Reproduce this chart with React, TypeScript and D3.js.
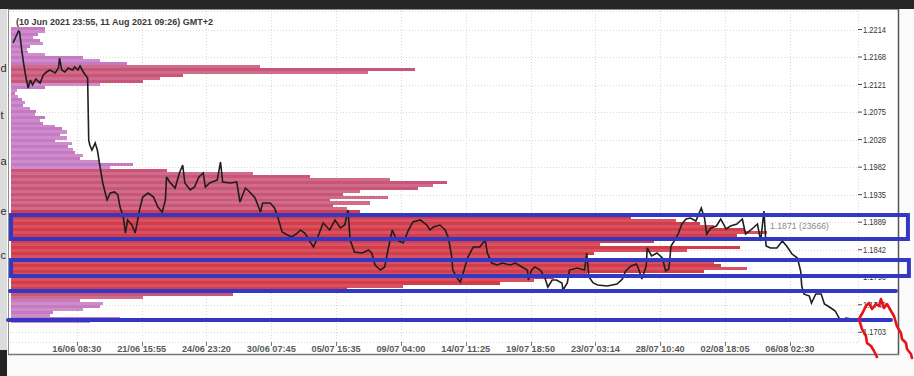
import React from 'react';
import * as d3 from 'd3';

const W = 914;
const H = 376;

// ---- axis data ----
const xTickBars = [60, 120, 180, 240, 300, 360, 420, 480, 540, 600, 660, 720];
const xTickLabels = [
  '16/06 08:30', '21/06 15:55', '24/06 23:20', '30/06 07:45', '05/07 15:35', '09/07 04:00',
  '14/07 11:25', '19/07 18:50', '23/07 03:14', '28/07 10:40', '02/08 18:05', '06/08 02:30',
];
const yTicks = [1.2214, 1.21675, 1.2121, 1.20745, 1.2028, 1.19815, 1.1935, 1.18885, 1.1842, 1.17955, 1.1749, 1.17025];
const yTickLabels = ['1.2214', '1.2168', '1.2121', '1.2075', '1.2028', '1.1982', '1.1935', '1.1889', '1.1842', '1.1796', '1.1749', '1.1703'];

const titleText = '(10 Jun 2021 23:55, 11 Aug 2021 09:26) GMT+2';

// ---- price series (bar index, price) ----
const priceBars = [
  1, 6, 7, 9, 11, 13, 15, 17, 19, 22, 26, 29, 32, 35, 40, 43, 44, 46, 49, 52, 56, 58, 61, 63, 66, 68, 70,
  71, 72, 74, 77, 79, 82, 84, 88, 91, 95, 98, 100, 103, 105, 107, 111, 114, 116, 118, 121, 126, 131, 135,
  139, 142, 143, 146, 151, 155, 158, 160, 165, 169, 173, 177, 179, 183, 190, 193, 195, 202, 208, 211, 216,
  220, 225, 230, 232, 239, 243, 246, 250, 255, 259, 264, 267, 271, 279, 282, 288, 294, 299, 304, 308, 311,
  313, 317, 324, 330, 333, 336, 341, 345, 348, 352, 356, 362, 367, 371, 378, 384, 387, 390, 396, 401, 404,
  407, 408, 412, 415, 419, 422, 427, 433, 438, 440, 444, 449, 454, 461, 466, 472, 477, 478, 481, 484, 489,
  493, 496, 500, 504, 509, 510, 514, 516, 523, 530, 532, 534, 538, 542, 551, 560, 565, 568, 573, 578, 580,
  583, 587, 588, 592, 597, 602, 605, 608, 610, 613, 617, 620, 624, 628, 633, 638, 641, 643, 647, 652, 656,
  661, 665, 671, 676, 679, 685, 690, 693, 696, 698, 702, 708, 713, 717, 722, 727, 730, 731, 733, 738, 740,
  744, 749, 752, 758, 762, 767, 772, 777, 779,
];
const priceValues = [
  1.21912, 1.22114, 1.22098, 1.21793, 1.2154, 1.2132, 1.21152, 1.21287, 1.21202, 1.21304, 1.21236, 1.21371,
  1.21422, 1.21456, 1.21405, 1.21489, 1.21658, 1.21456, 1.21422, 1.21489, 1.21456, 1.21506, 1.21456, 1.21523,
  1.21422, 1.21371, 1.2132,
  1.20273, 1.20189, 1.20104, 1.20222, 1.20104, 1.19766, 1.19547, 1.1926, 1.19378, 1.19395, 1.19344, 1.19141,
  1.18972, 1.18702, 1.18922, 1.18837, 1.18702, 1.18888, 1.19091, 1.1931, 1.19378, 1.1931, 1.19141,
  1.19057, 1.1926, 1.19648, 1.19564, 1.19462, 1.19716, 1.19851, 1.19547, 1.19429, 1.19479, 1.19648, 1.19716,
  1.19479, 1.19547, 1.19597, 1.19902, 1.19564, 1.19547, 1.19564, 1.19226, 1.19462,
  1.19395, 1.19293, 1.19057, 1.19209, 1.19209, 1.19125, 1.18972, 1.18719, 1.18668, 1.18635, 1.18702, 1.18753,
  1.18702, 1.18466, 1.18584, 1.18871, 1.18753, 1.18922, 1.18787, 1.18837, 1.19091,
  1.18584, 1.18381, 1.18364, 1.18415, 1.18364, 1.18162, 1.18077, 1.18128, 1.18415, 1.18753, 1.18584, 1.18533,
  1.18753, 1.18888, 1.18922, 1.18837, 1.18753, 1.18804, 1.18837, 1.18753, 1.18618,
  1.18297, 1.18077, 1.17942, 1.17874, 1.18111, 1.18297, 1.18466, 1.18466, 1.18584, 1.18364, 1.18195, 1.18162,
  1.18195, 1.18162, 1.18195, 1.18128, 1.18077, 1.17908, 1.18077, 1.18128, 1.18077,
  1.17959, 1.1779, 1.17908, 1.17908, 1.17858, 1.17739, 1.17858, 1.18077, 1.18111, 1.18077, 1.18364, 1.17959,
  1.17858, 1.17824, 1.17807, 1.17841, 1.17925, 1.1806, 1.18145, 1.18179, 1.18094,
  1.17925, 1.18145, 1.18449, 1.18314, 1.18364, 1.1828, 1.1806, 1.18094, 1.18483, 1.18567, 1.18702, 1.18854,
  1.18939, 1.18956, 1.18905, 1.19125, 1.18956, 1.18685, 1.18787, 1.1882, 1.18939,
  1.1877, 1.1882, 1.18854, 1.18939, 1.18685, 1.1877, 1.18854, 1.18567, 1.19074, 1.18483, 1.18449, 1.18449,
  1.18567, 1.18483, 1.18347, 1.1828, 1.1806, 1.17807, 1.17672, 1.17638, 1.1752,
  1.17672, 1.17672, 1.17503, 1.17435, 1.17385, 1.17216, 1.17266, 1.1725, 1.17216,
];

// ---- volume profile (rows from top, 0.0005 price bins) ----
const profileTopPrice = 1.2216;
const profileStep = 0.0005;
const profileVolumes = [
  1064, 1064, 845, 689, 908, 1002, 595, 501, 532, 1064,
  2254, 2786, 3631, 7794, 12645, 11174, 5384, 4664, 4132, 2786,
  1064, 188, 125, 219, 344, 438, 376, 595, 783, 751,
  1064, 908, 1002, 1377, 1596, 1753, 1534, 1753, 1377, 1909,
  1784, 1941, 2003, 2254, 2160, 2786, 3819, 3099, 4883, 7575,
  9359, 11863, 13647, 13209, 12739, 10924, 10392, 11800, 9985, 11237,
  10079, 10517, 10924, 17184, 19406, 20815, 21566, 22004, 22943, 23666,
  22724, 20846, 20126, 18436, 22818, 21159, 18248, 18029, 17528, 22004,
  22223, 23037, 21691, 18029, 16996, 16370, 15306, 12270, 10517, 10298,
  6949, 4132, 2160, 2880, 2786, 2254, 1315, 1221, 3412, 2473,
];
const pocPrice = 1.1871;
const pocVolume = 23666;
const valueAreaHigh = 1.1907;
const valueAreaLow = 1.1775;

// ---- annotations (bar, price) ----
const blueBoxes = [
  { b0: -0.9, b1: 829.3, p0: 1.19006, p1: 1.18601 },
  { b0: -0.9, b1: 830.2, p0: 1.18246, p1: 1.17976 },
];
const blueLines = [
  { b0: -1.9, b1: 818.2, p: 1.17722 },
  { b0: -3.7, b1: 813.6, p: 1.17233 },
];
const redBars = [800.6, 797.9, 795.1, 791.4, 790.4, 786.7, 784.0, 787.7, 790.4, 793.2, 796.0, 799.7, 802.5, 804.3, 807.1, 809.9, 813.6, 816.4, 819.1, 822.8, 823.8, 827.5, 828.4, 832.1, 833.0];
const redPrices = [1.16608, 1.16709, 1.16793, 1.16844, 1.16962, 1.17081, 1.1725, 1.17368, 1.17469, 1.1752, 1.17418, 1.17503, 1.17469, 1.17587, 1.17435, 1.17503, 1.17385, 1.173, 1.17131, 1.17013, 1.16912, 1.16844, 1.16743, 1.16658, 1.16591];

const leftFragments = [
  { t: 'd', p: 1.2143 },
  { t: 't', p: 1.2063 },
  { t: 'a', p: 1.1985 },
  { t: 'e', p: 1.1900 },
  { t: 'c', p: 1.1826 },
];

export default function App() {
  const x = d3.scaleLinear().domain([0, 784]).range([12, 859]);
  const y = d3.scaleLinear().domain([1.1703, 1.2214]).range([332, 29.5]);
  const xv = d3.scaleLinear().domain([0, pocVolume]).range([11, 767]);

  const pricePath = d3
    .line<number>()
    .x((_, i) => x(priceBars[i]))
    .y((d) => y(d))(priceValues) || '';

  const redPath = d3
    .line<number>()
    .x((_, i) => x(redBars[i]))
    .y((d) => y(d))(redPrices) || '';

  const panelL = 8, panelR = 899, panelT = 9, panelB = 355;
  const plotL = 10, plotR = 858, gridT = 11, gridB = 342;

  const colVA = ['#d33c49', '#d75160'];
  const colHigh = ['#c9557a', '#d06b89'];
  const colLow = ['#c57ac3', '#cd8cca'];

  return (
    <svg width={W} height={H} style={{ position: 'absolute', left: 0, top: 0 }}>
      <rect x={0} y={0} width={W} height={H} fill="#fbfbfb" />
      {/* left page strip */}
      <rect x={0} y={panelT} width={7} height={341} fill="#dcdcdc" />
      <rect x={0} y={350} width={7} height={H - 350} fill="#232323" />
      <g fontFamily="Liberation Sans, Arial, sans-serif" fontSize={11} fill="#2e2e2e">
        {leftFragments.map((f, i) => (
          <text key={i} x={0.5} y={y(f.p)}>{f.t}</text>
        ))}
      </g>
      {/* top dark band */}
      <rect x={0} y={0} width={W} height={panelT} fill="#262626" />
      {/* panel */}
      <rect x={panelL} y={panelT} width={panelR - panelL} height={panelB - panelT} fill="#ffffff" />

      {/* grid */}
      <g stroke="#d9d9d9" strokeWidth={1} strokeDasharray="1,2">
        {yTicks.map((t, i) => (
          <line key={'gy' + i} x1={plotL} x2={plotR} y1={Math.round(y(t)) + 0.5} y2={Math.round(y(t)) + 0.5} />
        ))}
        <line x1={plotL} x2={plotR} y1={gridT + 0.5} y2={gridT + 0.5} />
        <line x1={plotL} x2={plotR} y1={gridB + 0.5} y2={gridB + 0.5} />
        {xTickBars.map((b, i) => (
          <line key={'gx' + i} x1={Math.round(x(b)) + 0.5} x2={Math.round(x(b)) + 0.5} y1={gridT} y2={gridB} />
        ))}
        <line x1={plotR + 0.5} x2={plotR + 0.5} y1={gridT} y2={gridB} />
      </g>

      {/* volume profile */}
      <g shapeRendering="crispEdges">
        {profileVolumes.map((v, k) => {
          const c = profileTopPrice - k * profileStep;
          const y0 = y(c + profileStep / 2);
          const y1 = y(c - profileStep / 2);
          const inVA = c <= valueAreaHigh && c >= valueAreaLow;
          const pal = inVA ? colVA : v > 4000 ? colHigh : colLow;
          return (
            <rect key={k} x={xv(0)} y={y0} width={xv(v) - xv(0)} height={Math.max(0.5, y1 - y0 + 0.2)} fill={pal[k % 2]} />
          );
        })}
      </g>

      {/* POC label */}
      <text x={xv(pocVolume) + 3} y={y(pocPrice) - 3.5} fontFamily="Liberation Sans, Arial, sans-serif" fontSize={9} fill="#8a8a8a" textLength={59} lengthAdjust="spacingAndGlyphs">
        {`${pocPrice.toFixed(4)} (${pocVolume})`}
      </text>

      {/* price line */}
      <path d={pricePath} fill="none" stroke="#1f1f1f" strokeWidth={1.6} strokeLinejoin="miter" strokeMiterlimit={3} />

      {/* title */}
      <text x={16} y={25} fontFamily="Liberation Sans, Arial, sans-serif" fontWeight="bold" fontSize={9.5} fill="#3a3a3a" textLength={197} lengthAdjust="spacingAndGlyphs">
        {titleText}
      </text>

      {/* y axis labels */}
      <g fontFamily="Liberation Sans, Arial, sans-serif" fontSize={9} fill="#333">
        {yTicks.map((t, i) => (
          <g key={'yl' + i}>
            <line x1={plotR} x2={plotR + 4} y1={y(t)} y2={y(t)} stroke="#444" strokeWidth={1} />
            <text x={plotR + 5} y={y(t) + 3.2} textLength={23} lengthAdjust="spacingAndGlyphs">{yTickLabels[i]}</text>
          </g>
        ))}
      </g>

      {/* x axis labels */}
      <g fontFamily="Liberation Sans, Arial, sans-serif" fontSize={8.5} fontWeight="bold" fill="#5a5a5a">
        {xTickBars.map((b, i) => (
          <g key={'xl' + i}>
            <line x1={Math.round(x(b)) + 0.5} x2={Math.round(x(b)) + 0.5} y1={gridB} y2={gridB + 4} stroke="#777" />
            <text x={x(b)} y={352} textAnchor="middle" textLength={49} lengthAdjust="spacingAndGlyphs">{xTickLabels[i]}</text>
          </g>
        ))}
      </g>

      {/* panel border */}
      <rect x={panelL + 0.5} y={panelT + 0.5} width={panelR - panelL - 1} height={panelB - panelT - 1} fill="none" stroke="#8c8c8c" strokeWidth={1} />
      <line x1={panelR - 0.5} x2={panelR - 0.5} y1={panelT} y2={panelB} stroke="#555" strokeWidth={1.5} />
      <line x1={panelL} x2={panelR} y1={panelB - 0.5} y2={panelB - 0.5} stroke="#777" strokeWidth={1.5} />

      {/* blue annotations */}
      <g fill="none" stroke="#3338c4" strokeWidth={4}>
        {blueBoxes.map((bx, i) => (
          <rect key={'bb' + i} x={x(bx.b0)} y={y(bx.p0)} width={x(bx.b1) - x(bx.b0)} height={y(bx.p1) - y(bx.p0)} />
        ))}
        {blueLines.map((ln, i) => (
          <line key={'bl' + i} x1={x(ln.b0)} x2={x(ln.b1)} y1={y(ln.p)} y2={y(ln.p)} strokeLinecap="round" />
        ))}
      </g>

      {/* red hand-drawn annotation */}
      <path d={redPath} fill="none" stroke="#e8121c" strokeWidth={2.6} strokeLinejoin="round" strokeLinecap="round" />
    </svg>
  );
}
